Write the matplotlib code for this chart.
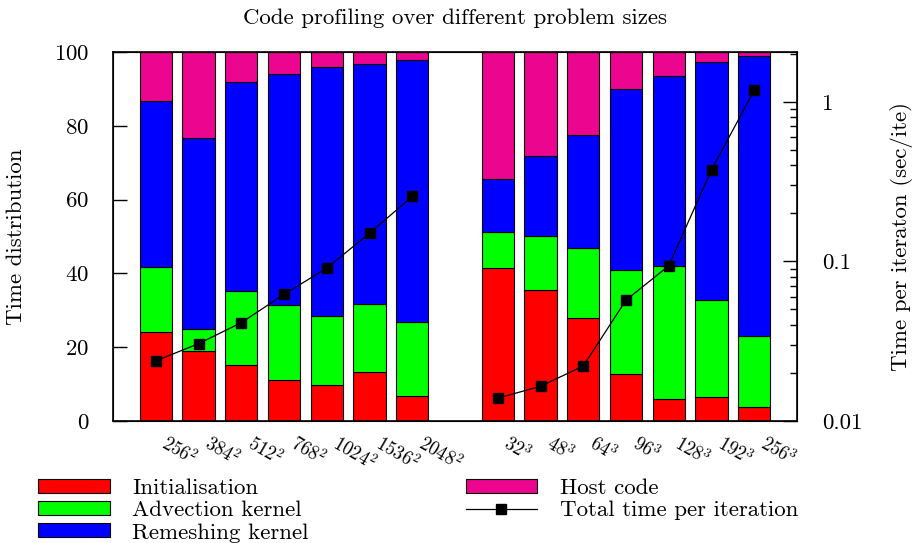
import matplotlib
matplotlib.use('Agg')
import numpy as np
import matplotlib.pyplot as plt
from matplotlib.transforms import ScaledTranslation

plt.rcParams['font.family'] = ['cmr10', 'DejaVu Serif']
plt.rcParams['mathtext.fontset'] = 'cm'
plt.rcParams['axes.formatter.use_mathtext'] = True

# problem sizes, 2D group then 3D group (one empty slot between them)
sizes = [r'$256^2$', r'$384^2$', r'$512^2$', r'$768^2$', r'$1024^2$', r'$1536^2$', r'$2048^2$',
         r'$32^3$', r'$48^3$', r'$64^3$', r'$96^3$', r'$128^3$', r'$192^3$', r'$256^3$']
pos = [0, 1, 2, 3, 4, 5, 6, 8, 9, 10, 11, 12, 13, 14]

# percentages of time
init = [24.0, 19.0, 15.1, 11.1, 9.7, 13.3, 6.7,
        41.4, 35.5, 27.9, 12.7, 6.0, 6.5, 3.7]
advec = [17.6, 6.0, 20.0, 20.3, 18.8, 18.4, 20.0,
         9.7, 14.6, 18.9, 28.2, 35.9, 26.2, 19.4]
remesh = [45.2, 51.6, 56.7, 62.6, 67.3, 65.0, 71.0,
          14.6, 21.6, 30.6, 49.1, 51.6, 64.5, 75.8]
host = [100 - a - b - c for a, b, c in zip(init, advec, remesh)]

# total time per iteration (sec/ite)
total_2d = [0.0238, 0.0305, 0.0413, 0.0621, 0.0908, 0.150, 0.255]
total_3d = [0.0139, 0.0165, 0.0221, 0.0572, 0.0938, 0.375, 1.18]

fs = 16.5
fig = plt.figure(figsize=(9.19, 5.43), dpi=100)
ax = fig.add_axes([113/919, 1-421/543, (797-113)/919, (421-52)/543])

w = 0.75
b1 = np.array(init)
b2 = b1 + np.array(advec)
b3 = b2 + np.array(remesh)
h1 = ax.bar(pos, init, w, color='#ff0000', edgecolor='black', linewidth=0.8, label='Initialisation')
h2 = ax.bar(pos, advec, w, bottom=b1, color='#00ff00', edgecolor='black', linewidth=0.8, label='Advection kernel')
h3 = ax.bar(pos, remesh, w, bottom=b2, color='#0000ff', edgecolor='black', linewidth=0.8, label='Remeshing kernel')
h4 = ax.bar(pos, host, w, bottom=b3, color='#ec058e', edgecolor='black', linewidth=0.8, label='Host code')

ax.set_xlim(-1, 15)
ax.set_ylim(0, 100)
ax.set_yticks([0, 20, 40, 60, 80, 100])
ax.tick_params(axis='y', direction='in', length=10, width=1, labelsize=fs, pad=17)
ax.set_xticks(pos)
ax.set_xticklabels(sizes, rotation=-30, ha='left', rotation_mode='anchor', fontsize=13.5)
ax.tick_params(axis='x', length=0, pad=8)
off = ScaledTranslation(13/100, 0, fig.dpi_scale_trans)
for lab in ax.get_xticklabels():
    lab.set_transform(lab.get_transform() + off)
ax.set_ylabel('Time distribution', fontsize=fs, labelpad=20)
ax.set_title('Code profiling over different problem sizes', fontsize=fs, pad=20)
for s in ax.spines.values():
    s.set_linewidth(1.2)

ax2 = ax.twinx()
ax2.set_yscale('log')
ax2.set_ylim(0.01, 2.05)
tline = np.array(total_2d + [np.nan] + total_3d)
xline = np.arange(15)
h5, = ax2.plot(xline, tline, color='black', linewidth=0.9, marker='s', markersize=6.5,
               label='Total time per iteration')
ax2.set_yticks([0.01, 0.1, 1])
ax2.set_yticklabels(['0.01', '0.1', '1'])
ax2.tick_params(axis='y', which='major', direction='in', length=10, width=1, labelsize=fs, pad=18)
ax2.tick_params(axis='y', which='minor', direction='in', length=5, width=1)
ax2.set_ylabel('Time per iteraton (sec/ite)', fontsize=fs, labelpad=20)

fig.legend(handles=[h1, h2, h3, h4, h5], loc='upper left', bbox_to_anchor=(27/919, 1-467/543),
           ncol=2, frameon=False, fontsize=fs, borderpad=0, handlelength=3.1, handleheight=0.57,
           handletextpad=1.0, labelspacing=0.12, columnspacing=6.85)

plt.savefig('out.png', dpi=100)
